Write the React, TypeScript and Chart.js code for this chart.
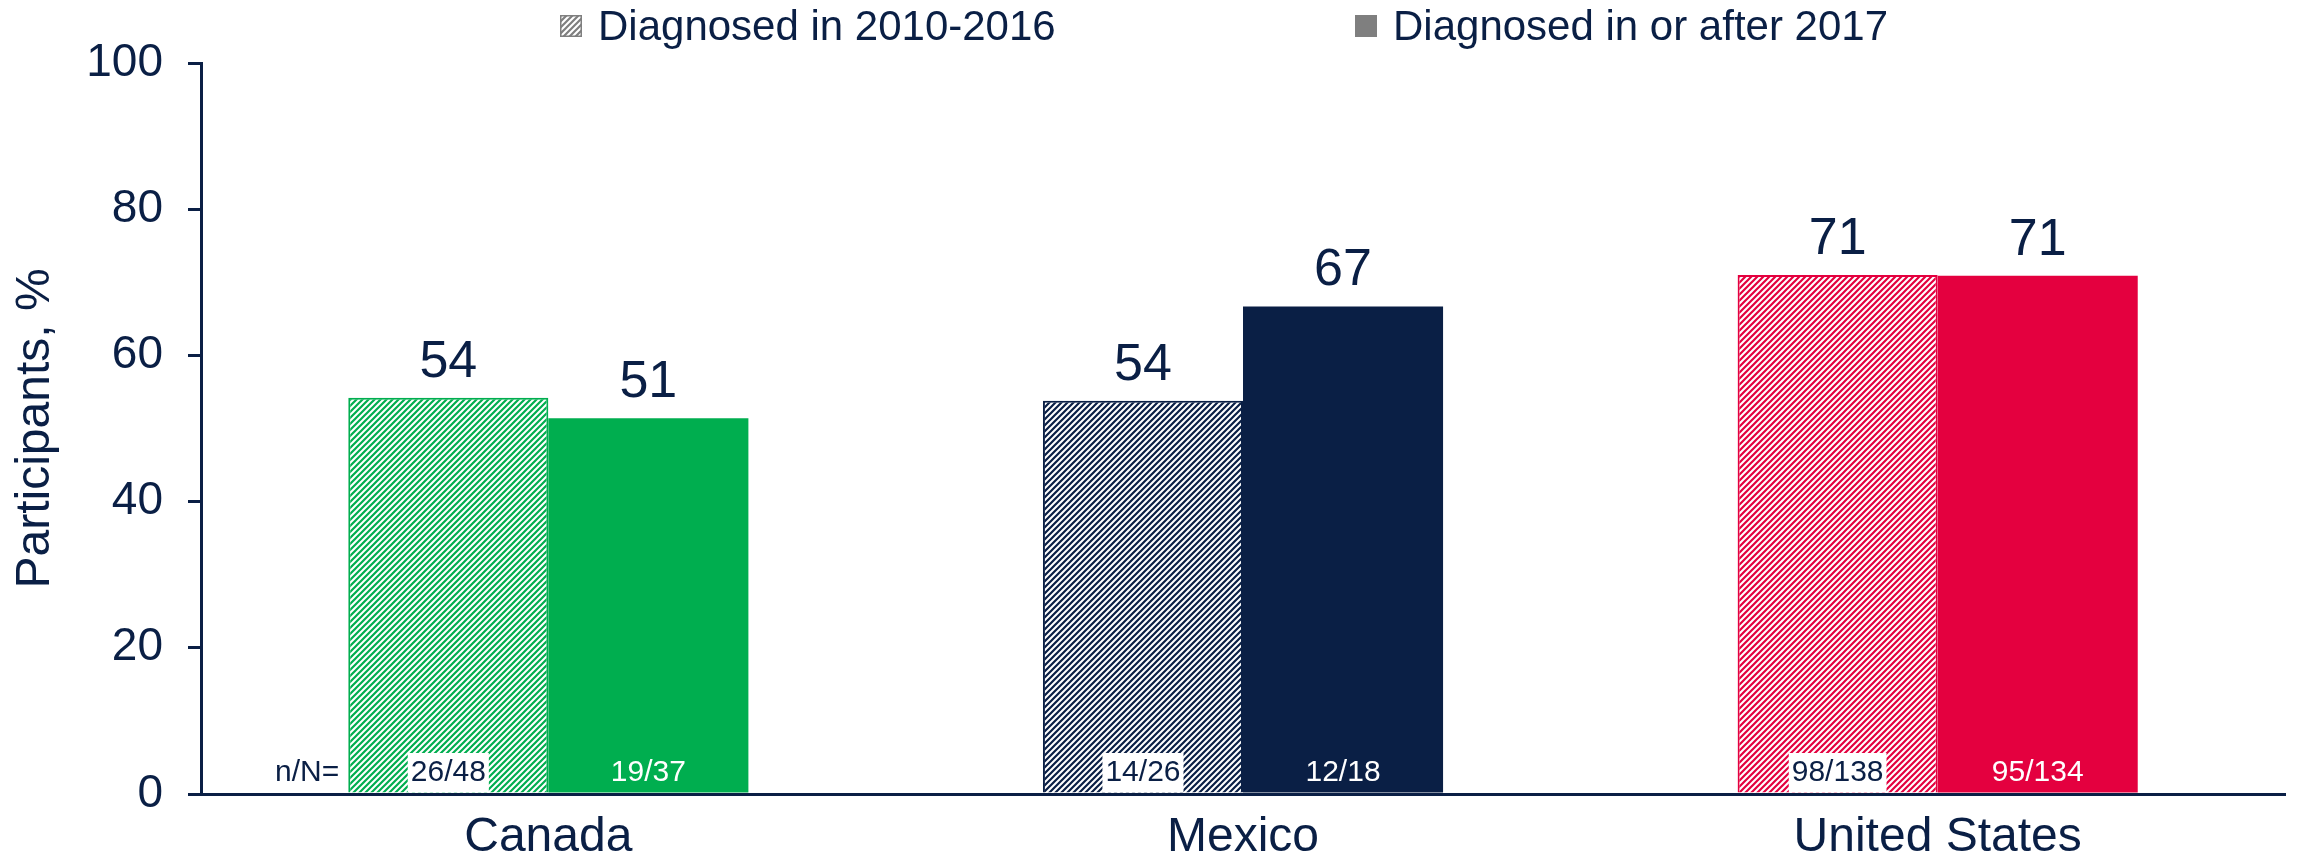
import React, { useEffect, useRef } from "react";
import { Chart, registerables } from "chart.js";

Chart.register(...registerables);

const categories = ["Canada", "Mexico", "United States"];
const seriesNames = ["Diagnosed in 2010-2016", "Diagnosed in or after 2017"];
const earlyValues = [54.2, 53.8, 71.0];
const lateValues = [51.4, 66.7, 70.9];
const earlyCounts = ["26/48", "14/26", "98/138"];
const lateCounts = ["19/37", "12/18", "95/134"];
const countPrefix = "n/N=";
const yTickMin = 0;
const yTickMax = 100;
const yTickStep = 20;
const yTitle = "Participants, %";

const countryColors = ["#00ae4f", "#0a1f45", "#e4003f"];
const NAVY = "#0a1f45";
const LEGEND_GRAY = "#7f7f7f";
const FONT = "'Liberation Sans', Arial, Helvetica, sans-serif";

function makeHatch(color: string): CanvasPattern | string {
  const size = 6;
  const c = document.createElement("canvas");
  c.width = size;
  c.height = size;
  const g = c.getContext("2d");
  if (!g) return color;
  g.fillStyle = "#ffffff";
  g.fillRect(0, 0, size, size);
  g.strokeStyle = color;
  g.lineWidth = 2.2;
  g.lineCap = "square";
  g.beginPath();
  g.moveTo(0, size);
  g.lineTo(size, 0);
  g.moveTo(-size / 2, size / 2);
  g.lineTo(size / 2, -size / 2);
  g.moveTo(size / 2, size * 1.5);
  g.lineTo(size * 1.5, size / 2);
  g.stroke();
  const p = g.createPattern(c, "repeat");
  return p || color;
}

export default function App() {
  const ref = useRef<HTMLCanvasElement | null>(null);

  useEffect(() => {
    document.body.style.margin = "0";
    const canvas = ref.current;
    if (!canvas) return;

    const hatchPatterns = countryColors.map((c) => makeHatch(c));
    const grayHatch = makeHatch(LEGEND_GRAY);

    const labelsPlugin = {
      id: "barLabels",
      afterDatasetsDraw(chart: any) {
        const ctx = chart.ctx as CanvasRenderingContext2D;
        const yScale = chart.scales.y;
        const base = yScale.getPixelForValue(0);
        ctx.save();
        chart.data.datasets.forEach((ds: any, di: number) => {
          const meta = chart.getDatasetMeta(di);
          meta.data.forEach((bar: any, i: number) => {
            const v = ds.data[i] as number;
            ctx.font = `52px ${FONT}`;
            ctx.fillStyle = NAVY;
            ctx.textAlign = "center";
            ctx.textBaseline = "alphabetic";
            ctx.fillText(String(Math.round(v)), bar.x, bar.y - 21);
            const txt = di === 0 ? earlyCounts[i] : lateCounts[i];
            ctx.font = `30px ${FONT}`;
            const tw = ctx.measureText(txt).width;
            const baseline = base - 13;
            if (di === 0) {
              ctx.fillStyle = "#ffffff";
              ctx.fillRect(bar.x - tw / 2 - 3, base - 41, tw + 6, 39);
              ctx.fillStyle = NAVY;
            } else {
              ctx.fillStyle = "#ffffff";
            }
            ctx.fillText(txt, bar.x, baseline);
            if (di === 0 && i === 0) {
              ctx.fillStyle = NAVY;
              ctx.textAlign = "right";
              ctx.fillText(countPrefix, bar.x - bar.width / 2 - 9, baseline);
            }
          });
        });
        ctx.restore();
      },
      afterDraw(chart: any) {
        const ctx = chart.ctx as CanvasRenderingContext2D;
        ctx.save();
        const items = [
          { box: 560, text: 598, fill: grayHatch, name: seriesNames[0], border: true },
          { box: 1355, text: 1393, fill: LEGEND_GRAY, name: seriesNames[1], border: false },
        ];
        items.forEach((it) => {
          ctx.fillStyle = it.fill as any;
          ctx.fillRect(it.box, 15, 22, 22);
          if (it.border) {
            ctx.strokeStyle = LEGEND_GRAY;
            ctx.lineWidth = 1.5;
            ctx.strokeRect(it.box + 0.75, 15.75, 20.5, 20.5);
          }
          ctx.fillStyle = NAVY;
          ctx.font = `42px ${FONT}`;
          ctx.textAlign = "left";
          ctx.textBaseline = "alphabetic";
          ctx.fillText(it.name, it.text, 40);
        });
        ctx.restore();
      },
    };

    const chart = new Chart(canvas, {
      type: "bar",
      data: {
        labels: categories,
        datasets: [
          {
            label: seriesNames[0],
            data: earlyValues,
            backgroundColor: hatchPatterns as any,
            borderColor: countryColors,
            borderWidth: 2,
            borderSkipped: "bottom",
            categoryPercentage: 0.576,
            barPercentage: 1.0,
          },
          {
            label: seriesNames[1],
            data: lateValues,
            backgroundColor: countryColors,
            borderWidth: 0,
            categoryPercentage: 0.576,
            barPercentage: 1.0,
          },
        ],
      },
      options: {
        responsive: false,
        animation: false,
        layout: { padding: { top: 63, right: 12, left: 0, bottom: 0 } },
        plugins: {
          legend: { display: false },
          tooltip: { enabled: false },
        },
        scales: {
          x: {
            grid: { display: false, drawTicks: false },
            border: { display: true, color: NAVY, width: 3 },
            ticks: {
              color: NAVY,
              font: { size: 48, family: FONT },
              padding: 15,
              maxRotation: 0,
            },
            afterFit: (s: any) => {
              s.height = 67;
            },
          },
          y: {
            min: yTickMin,
            max: yTickMax,
            ticks: {
              stepSize: yTickStep,
              color: NAVY,
              font: { size: 46, family: FONT },
              padding: 25,
            },
            grid: {
              drawOnChartArea: false,
              drawTicks: true,
              tickLength: 13,
              color: NAVY,
              lineWidth: 3,
            },
            border: { display: true, color: NAVY, width: 3 },
            title: {
              display: true,
              text: yTitle,
              color: NAVY,
              font: { size: 48, family: FONT },
              padding: { top: 7, bottom: 0 },
            },
            afterFit: (s: any) => {
              s.width = 201;
            },
          },
        },
      },
      plugins: [labelsPlugin],
    });

    return () => {
      chart.destroy();
    };
  }, []);

  return (
    <div style={{ width: 2297, height: 861 }}>
      <canvas ref={ref} width={2297} height={861} style={{ display: "block" }} />
    </div>
  );
}
